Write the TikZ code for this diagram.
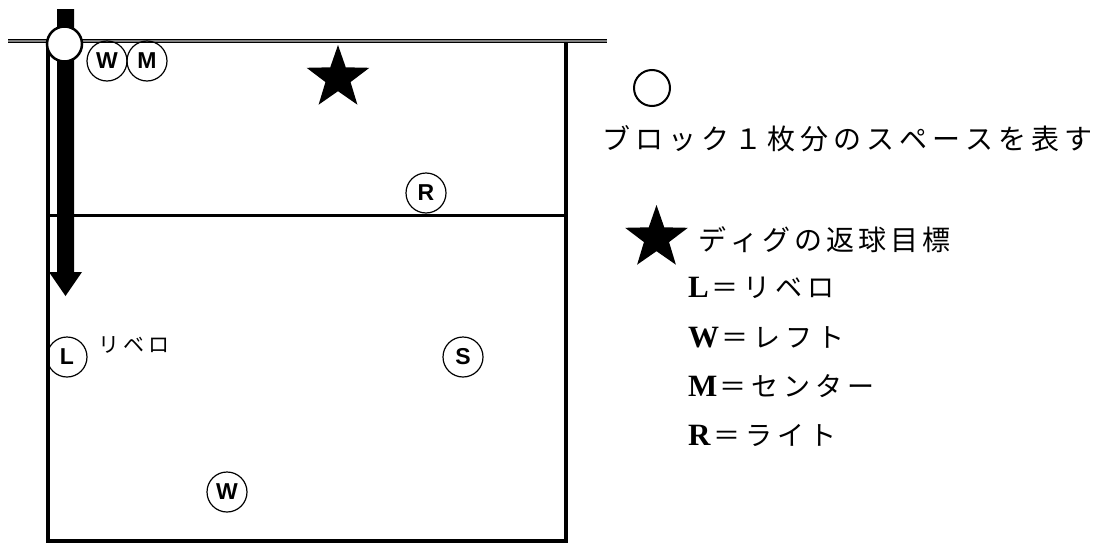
\documentclass[tikz,border=0pt]{standalone}
\usepackage{fontspec}
\setmainfont{Liberation Serif}
\newfontfamily\jpfont{Noto Sans CJK JP}
\newfontfamily\sansfont{Liberation Sans}
\makeatletter
\newcommand\gridtext[2]{\@tfor\gt@c:=#2\do{\makebox[#1][c]{\gt@c}}}
\makeatother
\newcommand\fivestar[3]{% x, y, outer radius
  \fill[shift={(#1,#2)}] (-90:#3) -- (-54:{0.40*#3}) -- (-18:#3) -- (18:{0.40*#3})
    -- (54:#3) -- (90:{0.40*#3}) -- (126:#3) -- (162:{0.40*#3}) -- (198:#3)
    -- (234:{0.40*#3}) -- cycle;}
\begin{document}
\begin{tikzpicture}[x=1pt,y=-1pt,
  courtline/.style={line width=4pt},
  player/.style={draw, circle, minimum size=40pt, inner sep=0pt, line width=1.2pt,
    font=\sansfont\bfseries\fontsize{23}{23}\selectfont},
  jptext/.style={anchor=west, inner sep=0pt, font=\jpfont\fontsize{28}{28}\selectfont},
  legline/.style={anchor=west, inner sep=0pt},
  legletter/.style={font=\bfseries\fontsize{31}{31}\selectfont}]
\useasboundingbox (0,0) rectangle (1105,546);
% court
\coordinate (tl) at (48,41);
\coordinate (tr) at (566,41);
\coordinate (bl) at (48,541);
\coordinate (br) at (566,541);
\coordinate (ml) at (48,215);
\coordinate (mr) at (566,215);
\draw[courtline] (tl) -- (bl) -- (br) -- (tr);
\draw[line width=3pt] (ml) -- (mr);
% net
\coordinate (netl) at (8,41);
\coordinate (netr) at (607,41);
\draw[line width=1.4pt, double=gray, double distance=1.2pt] (netl) -- (netr);
% arrow
\fill (57,9) -- (74,9) -- (74,272) -- (82,272) -- (65.5,296) -- (49,272) -- (57,272) -- cycle;
% block circle
\node[draw, circle, fill=white, line width=2.5pt, minimum size=35pt, inner sep=0pt] (block) at (64.5,44) {};
% players
\node[player] (w1) at (107,61) {W};
\node[player] (m1) at (147,61) {M};
\node[player] (r1) at (426,193) {R};
\node[player] (s1) at (463,357) {S};
\node[player] (l1) at (67,357) {L};
\node[player] (w2) at (227,492) {W};
\node[anchor=west, inner sep=0pt, font=\jpfont\fontsize{21}{21}\selectfont] (libero) at (96,345) {\gridtext{25pt}{リベロ}};
% target star
\fivestar{338}{78}{33}
% legend
\node[draw, circle, line width=2pt, minimum size=36pt, inner sep=0pt] (legcircle) at (652,88) {};
\node[jptext] (legblock) at (600,139) {\gridtext{33pt}{ブロック１枚分のスペースを表す}};
\fivestar{656.5}{238}{33}
\node[jptext] (legdig) at (696,240) {\gridtext{32pt}{ディグの返球目標}};
\node[legline] (legL) at (688,288) {{\bfseries\fontsize{31}{31}\selectfont L}{\jpfont\fontsize{27}{27}\selectfont\gridtext{32pt}{＝リベロ}}};
\node[legline] (legW) at (688,337) {{\bfseries\fontsize{31}{31}\selectfont W}{\jpfont\fontsize{27}{27}\selectfont\gridtext{32pt}{＝レフト}}};
\node[legline] (legM) at (688,386) {{\bfseries\fontsize{31}{31}\selectfont M}{\jpfont\fontsize{27}{27}\selectfont\gridtext{32pt}{＝センター}}};
\node[legline] (legR) at (688,435) {{\bfseries\fontsize{31}{31}\selectfont R}{\jpfont\fontsize{27}{27}\selectfont\gridtext{32pt}{＝ライト}}};
\end{tikzpicture}
\end{document}
